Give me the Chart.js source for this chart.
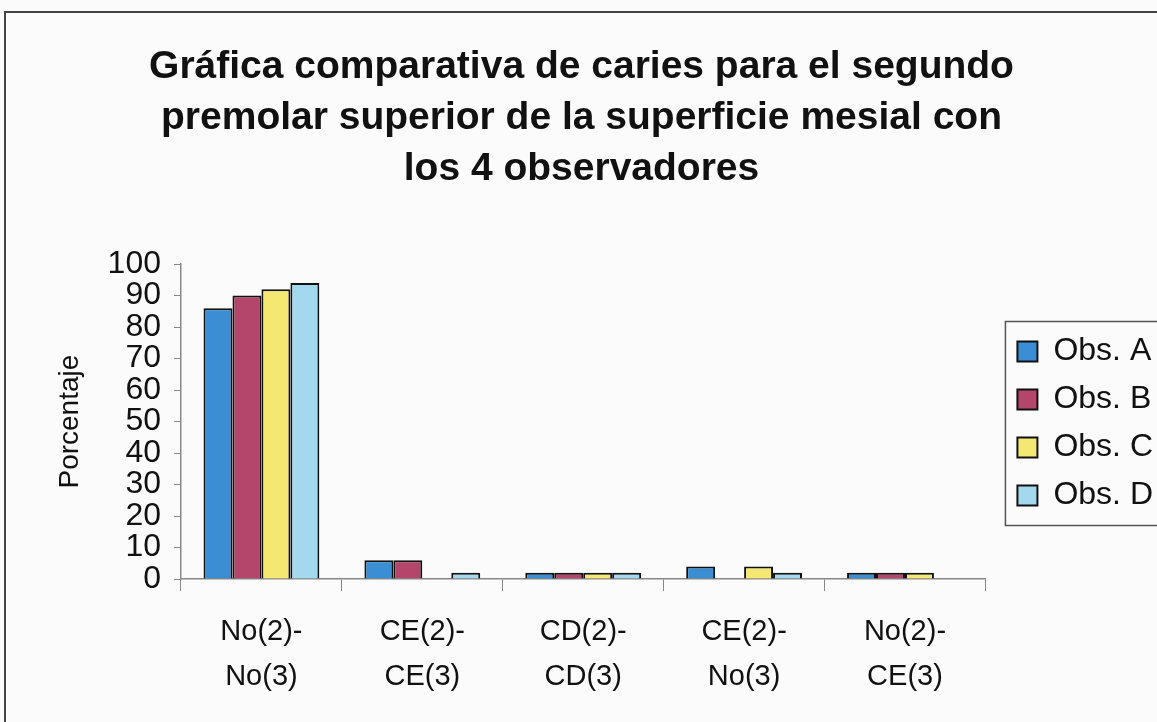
<!DOCTYPE html>
<html>
<head>
<meta charset="utf-8">
<script src="https://cdn.jsdelivr.net/npm/chart.js@4.4.0/dist/chart.umd.min.js"></script>
<style>
  html, body { margin: 0; padding: 0; background: #fbfbfb; }
  #wrap { width: 1157px; height: 722px; position: relative; }
</style>
</head>
<body>
<div id="wrap"><canvas id="myChart" width="1157" height="722"></canvas></div>
<script>
const categories = [['No(2)-', 'No(3)'], ['CE(2)-', 'CE(3)'], ['CD(2)-', 'CD(3)'], ['CE(2)-', 'No(3)'], ['No(2)-', 'CE(3)']];
const obsA = [86, 6, 2, 4, 2];
const obsB = [90, 6, 2, 0, 2];
const obsC = [92, 0, 2, 4, 2];
const obsD = [94, 2, 2, 2, 0];
const yTicks = [0, 10, 20, 30, 40, 50, 60, 70, 80, 90, 100];

const font = 'Liberation Sans, Arial, sans-serif';

// frame around the chart + border around the legend
const extras = {
  id: 'extras',
  beforeDraw(chart) {
    const c = chart.ctx;
    c.save();
    c.fillStyle = '#fbfbfb';
    c.fillRect(0, 0, chart.width, chart.height);
    c.strokeStyle = '#444';
    c.lineWidth = 2;
    c.beginPath();
    c.moveTo(5, 722); c.lineTo(5, 12); c.lineTo(1157, 12);
    c.stroke();
    c.restore();
  },
  afterDraw(chart) {
    const boxes = chart.legend.legendHitBoxes;
    if (!boxes || !boxes.length) return;
    const c = chart.ctx;
    const top = boxes[0].top - 14;
    const bottom = boxes[boxes.length - 1].top + boxes[boxes.length - 1].height + 14;
    const left = boxes[0].left - 12;
    c.save();
    c.strokeStyle = '#555';
    c.lineWidth = 1.5;
    c.strokeRect(left, top, chart.width - left + 5, bottom - top);
    c.restore();
  }
};

new Chart(document.getElementById('myChart'), {
  type: 'bar',
  data: {
    labels: categories,
    datasets: [
      { label: 'Obs. A', data: obsA, backgroundColor: '#3b8ed4' },
      { label: 'Obs. B', data: obsB, backgroundColor: '#b4466c' },
      { label: 'Obs. C', data: obsC, backgroundColor: '#f4e873' },
      { label: 'Obs. D', data: obsD, backgroundColor: '#a2d9ef' }
    ]
  },
  options: {
    responsive: false,
    animation: false,
    layout: { padding: { left: 0, right: -6, top: 0, bottom: 5 } },
    datasets: {
      bar: { borderColor: '#111', borderWidth: 2, barPercentage: 1, categoryPercentage: 0.72 }
    },
    plugins: {
      title: {
        display: true,
        text: ['Gráfica comparativa de caries para el segundo', 'premolar superior de la superficie mesial con', 'los 4 observadores'],
        color: '#111',
        font: { family: font, size: 39, weight: 'bold', lineHeight: 1.3 },
        padding: { top: 42, bottom: 70 }
      },
      legend: {
        position: 'right',
        title: { display: true, text: ' ', font: { size: 10 }, padding: { top: 0, bottom: 118 } },
        labels: {
          color: '#111',
          font: { family: font, size: 32 },
          boxWidth: 20, boxHeight: 20, padding: 16
        }
      },
      tooltip: { enabled: false }
    },
    scales: {
      x: {
        grid: { drawOnChartArea: false, color: '#888', tickLength: 12 },
        border: { color: '#888', width: 1.5 },
        ticks: { color: '#111', font: { family: font, size: 29, lineHeight: 1.55 }, padding: 18, maxRotation: 0 }
      },
      y: {
        min: 0, max: 100,
        afterBuildTicks(axis) { axis.ticks = yTicks.map(v => ({ value: v })); },
        grid: { drawOnChartArea: false, color: '#888', tickLength: 7 },
        border: { color: '#888', width: 1.5 },
        ticks: { color: '#111', font: { family: font, size: 32 }, padding: 13, autoSkip: false },
        title: { display: true, text: 'Porcentaje', color: '#111', font: { family: font, size: 28 }, padding: { top: 53, bottom: 8 } }
      },
      // empty spacer between plot and legend
      gap: {
        position: 'right',
        grid: { display: false },
        ticks: { display: false },
        border: { display: false },
        afterFit(axis) { axis.width = 16; }
      }
    }
  },
  plugins: [extras]
});
</script>
</body>
</html>
